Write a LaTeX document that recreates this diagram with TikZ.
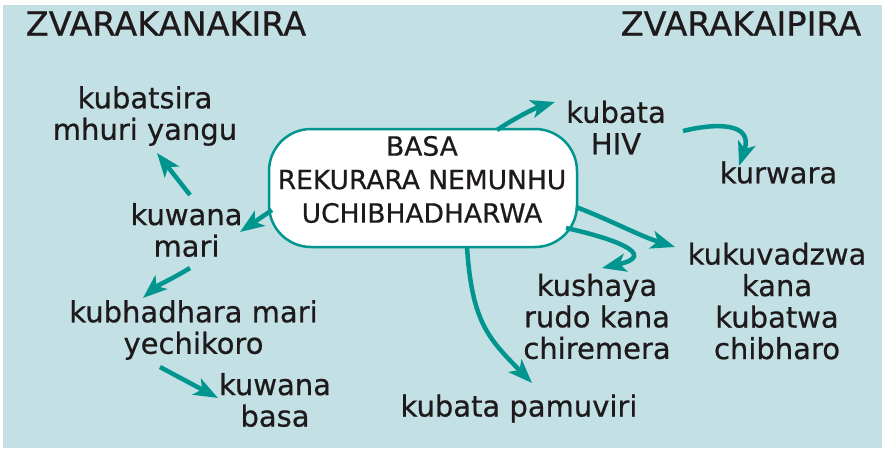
\documentclass[tikz,border=0pt]{standalone}
\usepackage{fontspec}
\setmainfont{DejaVu Sans}[FakeBold=0.6]
\usetikzlibrary{arrows.meta}
\definecolor{bgblue}{HTML}{C3E0E4}
\definecolor{teal2}{HTML}{00958F}
\definecolor{ink}{HTML}{1E1A1B}
\tikzset{
  lbl/.style={text=ink, align=center, inner sep=0pt, font=\fontsize{29}{31.5}\selectfont},
  ttl/.style={text=ink, inner sep=0pt, font=\fontsize{33.5}{34}\selectfont},
  arr/.style={draw=teal2, line width=4.5pt, -{Stealth[length=24pt,width=18pt,inset=6pt]}},
  hub/.style={draw=teal2, line width=2.5pt, fill=white, rounded corners=42pt,
    minimum width=308pt, minimum height=118pt, inner sep=0pt},
}
\begin{document}
\begin{tikzpicture}[x=1pt,y=-1pt]
\useasboundingbox (0,0) rectangle (885,448);
\fill[bgblue] (3,5) rectangle (882,448);

\node[ttl] (good) at (166,23.5) {ZVARAKANAKIRA};
\node[ttl] (bad) at (741,23.5) {ZVARAKAIPIRA};

\node[hub] (box) at (423,188) {};
\node[text=ink, align=center, inner sep=0pt, font=\fontsize{26.5}{33.5}\selectfont] (boxtext) at (422,179.5) {BASA\\REKURARA NEMUNHU\\UCHIBHADHARWA};

\node[lbl] (help) at (145,116) {kubatsira\\mhuri yangu};
\node[lbl] (money) at (186.5,230) {kuwana\\mari};
\node[lbl] (school) at (193.5,330) {kubhadhara mari\\yechikoro};
\node[lbl] (job) at (275,400) {kuwana\\basa};
\node[lbl] (hiv) at (616,127.5) {kubata\\HIV};
\node[lbl] (sick) at (778.5,172.5) {kurwara};
\node[lbl] (abuse) at (777,301) {kukuvadzwa\\kana\\kubatwa\\chibharo};
\node[lbl] (respect) at (597,316.5) {kushaya\\rudo kana\\chiremera};
\node[lbl] (preg) at (519,408.5) {kubata pamuviri};

% connector end points
\coordinate (s1) at (272,210); \coordinate (t1) at (240,232);
\coordinate (s2) at (190,195); \coordinate (t2) at (157,153);
\coordinate (s3) at (190,268); \coordinate (t3) at (143,298);
\coordinate (s4) at (160,367); \coordinate (t4) at (218,398);
\coordinate (s5) at (497,130); \coordinate (t5) at (555,102);
\coordinate (s6) at (683,131); \coordinate (t6) at (739,166);
\coordinate (s7) at (576,207); \coordinate (t7) at (675,247);
\coordinate (s8) at (566,228); \coordinate (t8) at (602,268);
\coordinate (s9) at (467,247); \coordinate (t9) at (532,383);

\draw[arr] (s1) -- (t1);
\draw[arr] (s2) -- (t2);
\draw[arr] (s3) .. controls (172,279) and (158,285) .. (t3);
\draw[arr] (s4) -- (t4);
\draw[arr] (s5) .. controls (515,118) and (535,108) .. (t5);
\draw[arr] (s6) .. controls (715,123) and (754,122) .. (t6);
\draw[arr] (s7) .. controls (610,220) and (640,236) .. (t7);
\draw[arr] (s8) .. controls (612,238) and (660,255) .. (t8);
\draw[arr] (s9) .. controls (472,322) and (488,338) .. (t9);
\end{tikzpicture}
\end{document}
